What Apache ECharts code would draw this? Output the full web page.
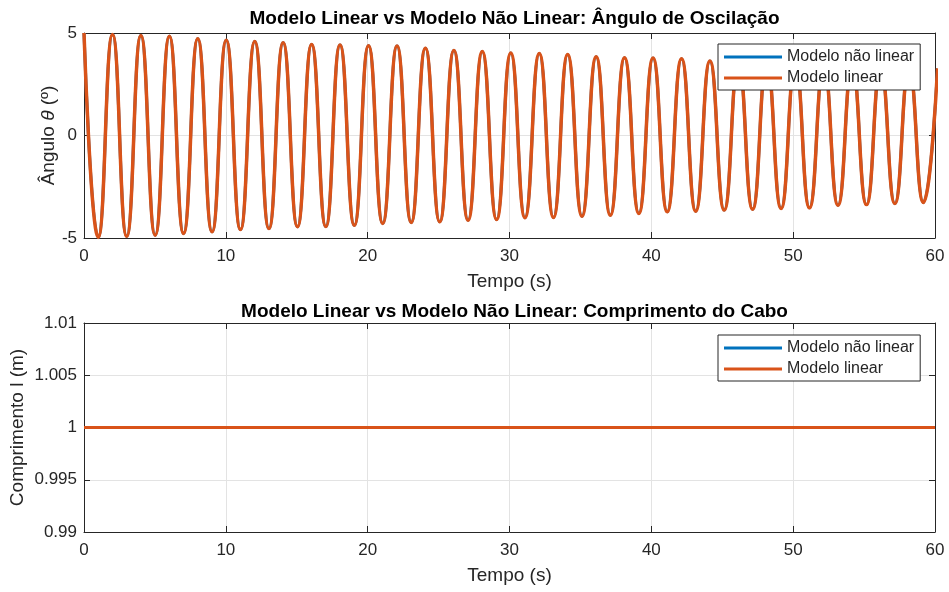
<!DOCTYPE html>
<html>
<head>
<meta charset="utf-8">
<script src="https://cdn.jsdelivr.net/npm/echarts@6/dist/echarts.min.js"></script>
<style>
    html,body{margin:0;padding:0;background:#fff;}
    #chart{width:949px;height:592px;}
</style>
</head>
<body>
<div id="chart"></div>
<script>
// instantes dos extremos (picos e vales), em s
var extremaTimes=[0,1.00,2.01,3.01,4.01,5.02,6.02,7.02,8.02,9.03,10.03,11.03,12.04,13.04,14.04,15.05,16.05,17.05,18.05,19.06,
    20.06,21.06,22.07,23.07,24.07,25.08,26.08,27.08,28.08,29.09,30.09,31.09,32.10,33.10,34.10,35.11,36.11,37.11,38.11,39.12,
    40.12,41.12,42.13,43.13,44.13,45.14,46.14,47.14,48.14,49.15,50.15,51.15,52.16,53.16,54.16,55.17,56.17,57.17,58.17,59.18,60.18];
// ângulo nos extremos (graus) - os dois modelos ficam sobrepostos na figura
var angleNaoLinear=[5.00,-4.97,4.93,-4.92,4.88,-4.86,4.84,-4.78,4.72,-4.70,4.65,-4.59,4.59,-4.54,4.52,-4.45,4.44,-4.44,4.42,-4.38,
    4.38,-4.29,4.36,-4.24,4.26,-4.21,4.15,-4.13,4.10,-4.10,4.03,-4.01,4.00,-4.00,3.95,-3.94,3.84,-3.89,3.79,-3.80,
    3.78,-3.72,3.74,-3.69,3.64,-3.64,3.62,-3.60,3.57,-3.56,3.52,-3.53,3.47,-3.40,3.42,-3.37,3.37,-3.32,3.32,-3.27,3.28];
var angleLinear=[5.00,-4.97,4.93,-4.92,4.88,-4.86,4.84,-4.78,4.72,-4.70,4.65,-4.59,4.59,-4.54,4.52,-4.45,4.44,-4.44,4.42,-4.38,
    4.38,-4.29,4.36,-4.24,4.26,-4.21,4.15,-4.13,4.10,-4.10,4.03,-4.01,4.00,-4.00,3.95,-3.94,3.84,-3.89,3.79,-3.80,
    3.78,-3.72,3.74,-3.69,3.64,-3.64,3.62,-3.60,3.57,-3.56,3.52,-3.53,3.47,-3.40,3.42,-3.37,3.37,-3.32,3.32,-3.27,3.28];
// comprimento do cabo (m)
var lengthTimes=[0,60];
var lengthNaoLinear=[1,1];
var lengthLinear=[1,1];

var seriesNames=['Modelo não linear','Modelo linear'];
var colors=['#0072BD','#D95319'];
var ink='#262626';
var font='"Liberation Sans", Arial, sans-serif';

function pairs(xs,ys){
    var out=[];
    for(var i=0;i<xs.length;i++){ out.push([xs[i],ys[i]]); }
    return out;
}

function xAxisFor(gridIndex,top){
    return {
        type:'value', gridIndex:gridIndex, position: top ? 'top' : 'bottom',
        min:0, max:60, interval:10,
        name: top ? '' : 'Tempo (s)', nameLocation:'middle', nameGap:34, nameMoveOverlap:false,
        nameTextStyle:{color:ink, fontSize:19, fontFamily:font},
        axisLine:{show:true, onZero:false, lineStyle:{color:ink, width:1}},
        axisTick:{show:true, inside:true, length:6, lineStyle:{color:ink}},
        axisLabel:{show:!top, color:ink, fontSize:17, fontFamily:font, margin:10},
        splitLine:{show:!top, lineStyle:{color:'#e3e3e3', width:1}}
    };
}

function yAxisFor(gridIndex,right,opt){
    return {
        type:'value', gridIndex:gridIndex, position: right ? 'right' : 'left',
        min:opt.min, max:opt.max, interval:opt.interval,
        name: right ? '' : opt.name, nameLocation:'middle', nameGap:opt.gap, nameMoveOverlap:false,
        nameTextStyle:{color:ink, fontSize:19, fontFamily:font, rich:opt.rich},
        axisLine:{show:true, onZero:false, lineStyle:{color:ink, width:1}},
        axisTick:{show:true, inside:true, length:6, lineStyle:{color:ink}},
        axisLabel:{show:!right, color:ink, fontSize:17, fontFamily:font, margin:7},
        splitLine:{show:!right, lineStyle:{color:'#e3e3e3', width:1}}
    };
}

function legendFor(top){
    return {
        data:seriesNames, orient:'vertical', left:718, top:top,
        icon:'rect', itemWidth:58, itemHeight:3, itemGap:5,
        padding:[5,6,4,6],
        borderColor:ink, borderWidth:1, backgroundColor:'#fff',
        textStyle:{color:ink, fontSize:16, fontFamily:font}
    };
}

function lineSeries(i,xi,yi,data,w){
    return {
        name:seriesNames[i], type:'line', xAxisIndex:xi, yAxisIndex:yi,
        data:data, showSymbol:false, symbol:'none', smooth:0.5, smoothMonotone:'x', clip:true,
        lineStyle:{color:colors[i], width:w}, itemStyle:{color:colors[i]}
    };
}

var option={
    animation:false,
    backgroundColor:'#fff',
    title:[
        {text:'Modelo Linear vs Modelo Não Linear: Ângulo de Oscilação', left:509.5, textAlign:'center', top:4,
            textStyle:{color:'#000', fontSize:19, fontWeight:'bold', fontFamily:font}},
        {text:'Modelo Linear vs Modelo Não Linear: Comprimento do Cabo', left:509.5, textAlign:'center', top:297,
            textStyle:{color:'#000', fontSize:19, fontWeight:'bold', fontFamily:font}}
    ],
    legend:[legendFor(44),legendFor(335)],
    grid:[
        {left:84, right:14, top:33, height:205, outerBoundsMode:'none'},
        {left:84, right:14, top:323, height:209, outerBoundsMode:'none'}
    ],
    xAxis:[xAxisFor(0,false),xAxisFor(0,true),xAxisFor(1,false),xAxisFor(1,true)],
    yAxis:[
        yAxisFor(0,false,{min:-5,max:5,interval:5,gap:26,
            name:'{a|Ângulo }{b|θ}{a| (º)}',
            rich:{a:{color:ink,fontSize:19,fontFamily:font},b:{color:ink,fontSize:19,fontFamily:font,fontStyle:'italic'}}}),
        yAxisFor(0,true,{min:-5,max:5,interval:5}),
        yAxisFor(1,false,{min:0.99,max:1.01,interval:0.005,gap:57,name:'Comprimento l (m)'}),
        yAxisFor(1,true,{min:0.99,max:1.01,interval:0.005})
    ],
    series:[
        lineSeries(0,0,0,pairs(extremaTimes,angleNaoLinear),3),
        lineSeries(1,0,0,pairs(extremaTimes,angleLinear),3.5),
        lineSeries(0,2,2,pairs(lengthTimes,lengthNaoLinear),3),
        lineSeries(1,2,2,pairs(lengthTimes,lengthLinear),3)
    ]
};

var mychart=echarts.init(document.getElementById('chart'));
mychart.setOption(option);
</script>
</body>
</html>
